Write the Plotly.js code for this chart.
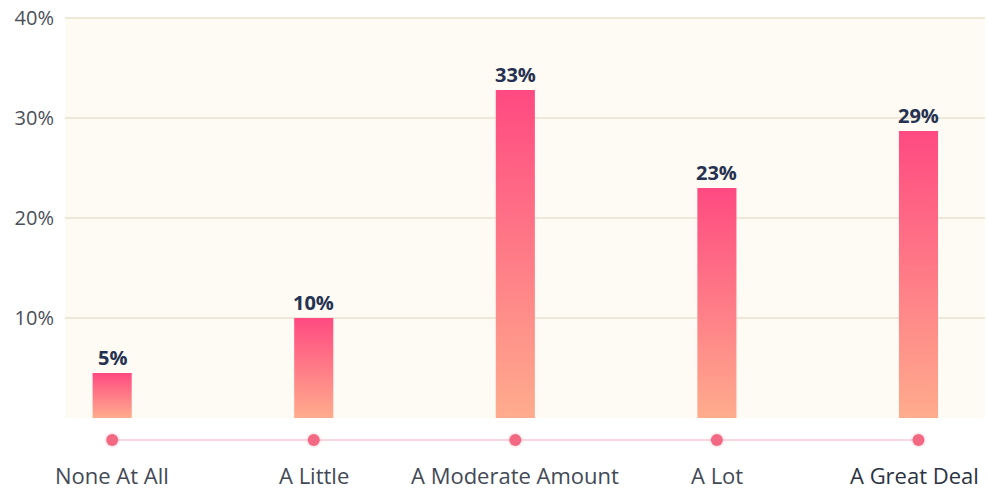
<!DOCTYPE html>
<html>
<head>
<meta charset="utf-8">
<script src="https://cdn.plot.ly/plotly-3.0.1.min.js"></script>
<style>html,body{margin:0;padding:0;background:#fff;}#chart{width:992px;height:489px;}</style>
</head>
<body>
<div id="chart"></div>
<script>
const categories = ["None At All", "A Little", "A Moderate Amount", "A Lot", "A Great Deal"];
const values = [4.5, 10, 32.8, 23, 28.7];
const valueLabels = ["5%", "10%", "33%", "23%", "29%"];
const yTickVals = [10, 20, 30, 40];
const yTickText = ["10%", "20%", "30%", "40%"];

const BAR_HALF = 0.097;
const DOT_Y = -2.2;
const LABEL_PAPER_Y = -0.0635;
const FONT = "Open Sans, Noto Sans, sans-serif";

const idx = categories.map((_, i) => i);
const traces = [];

// baseline with category markers
traces.push({
  x: idx, y: idx.map(() => DOT_Y), type: "scatter", mode: "lines",
  line: {color: "#fcd6de", width: 2}, hoverinfo: "skip", showlegend: false, cliponaxis: false
});
traces.push({
  x: idx, y: idx.map(() => DOT_Y), type: "scatter", mode: "markers",
  marker: {size: 16, color: "rgba(245,120,145,0.12)"}, hoverinfo: "skip", showlegend: false, cliponaxis: false
});
traces.push({
  x: idx, y: idx.map(() => DOT_Y), type: "scatter", mode: "markers",
  marker: {size: 12, color: "#f36882"}, hoverinfo: "skip", showlegend: false, cliponaxis: false
});

// gradient bars
values.forEach((v, i) => {
  traces.push({
    type: "scatter", mode: "lines",
    x: [i - BAR_HALF, i + BAR_HALF, i + BAR_HALF, i - BAR_HALF, i - BAR_HALF],
    y: [0, 0, v, v, 0],
    fill: "toself",
    fillcolor: "#ff6f88",
    fillgradient: {type: "vertical", colorscale: [[0, "#ffac8d"], [1, "#ff4a81"]]},
    line: {width: 0, color: "rgba(0,0,0,0)"},
    hoverinfo: "skip", showlegend: false
  });
});

const annotations = [];
values.forEach((v, i) => {
  annotations.push({
    x: i, y: v, xref: "x", yref: "y", text: "<b>" + valueLabels[i] + "</b>",
    showarrow: false, yanchor: "bottom", yshift: 0,
    font: {family: FONT, size: 20, color: "#253150"}
  });
});
categories.forEach((c, i) => {
  const last = i === categories.length - 1;
  annotations.push({
    x: i, y: LABEL_PAPER_Y, xref: "x", yref: "paper", text: c,
    showarrow: false, yanchor: "middle", xshift: last ? -4 : 0, borderpad: 0,
    font: {family: FONT, size: 22, color: last ? "#2a3342" : "#434956"}
  });
});

const layout = {
  width: 992, height: 489,
  margin: {l: 65, r: 7, t: 16, b: 41},
  paper_bgcolor: "#ffffff",
  plot_bgcolor: "rgba(0,0,0,0)",
  showlegend: false,
  xaxis: {
    range: [-0.234, 4.33], showgrid: false, zeroline: false,
    showticklabels: false, ticks: "", fixedrange: true
  },
  yaxis: {
    range: [-3, 40.2], tickvals: yTickVals, ticktext: yTickText,
    showgrid: true, gridcolor: "#efe8d9", gridwidth: 1.5, zeroline: false,
    tickfont: {family: FONT, size: 20, color: "#4a4f58"}, ticklabelstandoff: 10,
    ticks: "", fixedrange: true
  },
  shapes: [{
    type: "rect", xref: "paper", yref: "y", x0: 0, x1: 1, y0: 0, y1: 40,
    fillcolor: "#fdfbf4", line: {width: 0}, layer: "below"
  }],
  annotations: annotations
};

Plotly.newPlot("chart", traces, layout, {displayModeBar: false, staticPlot: true});
</script>
</body>
</html>
